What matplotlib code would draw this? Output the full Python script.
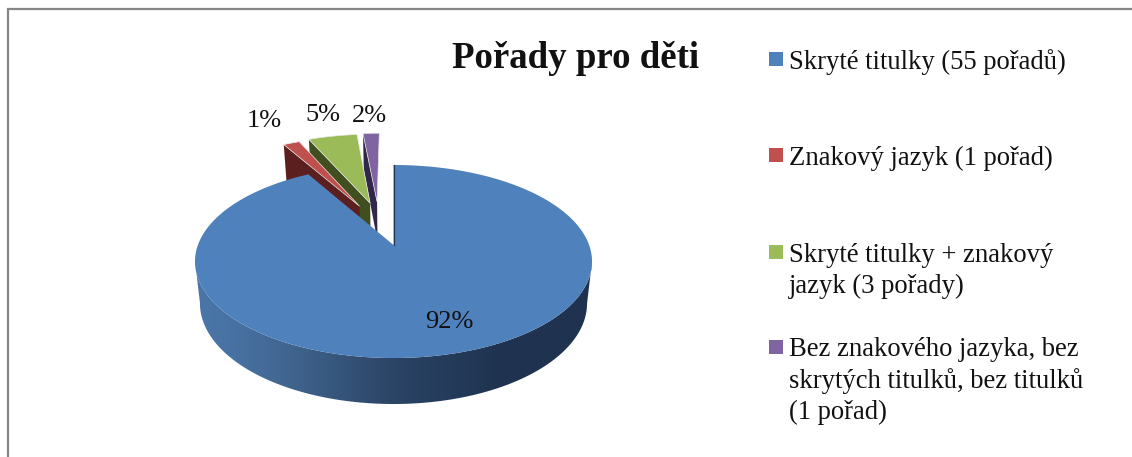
#!/usr/bin/env python3
'''3D look exploded pie, slices come from ax.pie and get projected by hand'''
import numpy as np
import matplotlib
matplotlib.use('Agg')
import matplotlib.pyplot as plt
from matplotlib.colors import LinearSegmentedColormap
from matplotlib.patches import Polygon, Rectangle

title = 'Pořady pro děti'
counts = [55, 1, 3, 1]
pct_labels = ['92%', '1%', '5%', '2%']
legend_lines = [
    ['Skryté titulky (55 pořadů)'],
    ['Znakový jazyk (1 pořad)'],
    ['Skryté titulky + znakový', 'jazyk (3 pořady)'],
    ['Bez znakového jazyka, bez', 'skrytých titulků, bez titulků', '(1 pořad)'],
]
colors = ['#4f81bd', '#c0504d', '#9bbb59', '#8064a2']
dark = ['#1f3550', '#5a1f1e', '#414f20', '#30274a']
explode = [0, 0.5, 0.5, 0.5]
nudge = [0, 0.04, 0, -0.065]   # extra sideways shift of the pulled out slices

cx, cy = 393.5, 245
persp = 0.171
sx, sy = 195.6, 93.7

def project(x, y, low=False):
    x, y = np.asarray(x, float), np.asarray(y, float)
    w = 1 + persp*y
    px, py = sx*x/w, sy*y/w
    if low:
        px = px*0.975
        py = py*1.044 - 41
    return np.column_stack([cx + px, cy - py])

def outline(w, extra):
    t = np.radians(np.linspace(w.theta1, w.theta2, 480))
    return w.center[0] + extra + w.r*np.cos(t), w.center[1] + w.r*np.sin(t)

fig = plt.figure(figsize=(11.32, 4.57), dpi=100)
helper = fig.add_axes([0, 0, 0.1, 0.1])
wedges, _ = helper.pie(counts, explode=explode, startangle=90, counterclock=False)
helper.remove()

ax = fig.add_axes([0, 0, 1, 1])
ax.set_xlim(0, 1132)
ax.set_ylim(457, 0)
ax.axis('off')

ax.plot([8, 8, 1132], [457, 9, 9], color='#868686', lw=1.6, solid_joinstyle='miter')

# pulled out slices, back to front (red sits in front of green, green of purple)
for i in [3, 2, 1]:
    w = wedges[i]
    x, y = outline(w, nudge[i])
    tx, ty = w.center[0] + nudge[i], w.center[1]
    top = project(np.r_[tx, x], np.r_[ty, y])
    # only the left cut face shows
    k = np.argmin(x)
    face = np.vstack([project([tx, x[k]], [ty, y[k]]),
                      project([x[k], tx], [y[k], ty], low=True)])
    z = 5 - i
    ax.add_patch(Polygon(face, fc=dark[i], ec='none', zorder=z))
    ax.add_patch(Polygon(top, fc=colors[i], ec='#e8e8e8', lw=0.5, zorder=z))

# blue slice, wall with a gradient and then the top
w = wedges[0]
x, y = outline(w, 0)
up, low = project(x, y), project(x, y, low=True)
# front half only, from the left extreme to the right one, so the sides close straight
wall = np.vstack([up[np.argmin(up[:, 0]):np.argmax(up[:, 0])+1],
                  low[np.argmin(low[:, 0]):np.argmax(low[:, 0])+1][::-1]])
wall_patch = Polygon(wall, fc='none', ec='none', zorder=6)
ax.add_patch(wall_patch)
cmap = LinearSegmentedColormap.from_list('wall', ['#4a75a8', '#3d6088', '#2c4668', '#1f3350', '#1f3450'])
img = ax.imshow(np.array([[0, .22, .42, .62, .7, 1]]), cmap=cmap, extent=[196, 593, 457, 0],
                aspect='auto', interpolation='bicubic', zorder=6)
img.set_clip_path(wall_patch)
ax.set_xlim(0, 1132)
ax.set_ylim(457, 0)
top = project(np.r_[0, x], np.r_[0, y])
ax.add_patch(Polygon(top, fc=colors[0], ec='none', zorder=7))
ax.plot([cx, cx], [165, cy], color='#1f3350', lw=0.8, zorder=8)

text_kw = dict(family=['Liberation Serif', 'DejaVu Serif'], color='#111111', va='center')
for s, px, py in zip(pct_labels, [449, 264, 323, 369], [322, 121, 115, 116]):
    ax.text(px, py, s, ha='center', fontsize=19, zorder=9, **text_kw)

ax.text(575, 58, title, ha='center', fontsize=26.6, fontweight='bold', **text_kw)

row_y = [62, 158, 255, 350]
for lines, c, ry in zip(legend_lines, colors, row_y):
    ax.add_patch(Rectangle((769, ry-10), 14, 14, fc=c, ec='none'))
    for j, s in enumerate(lines):
        ax.text(789, ry + j*31, s, ha='left', fontsize=19.2, **text_kw)

fig.savefig('out.png', dpi=100)
